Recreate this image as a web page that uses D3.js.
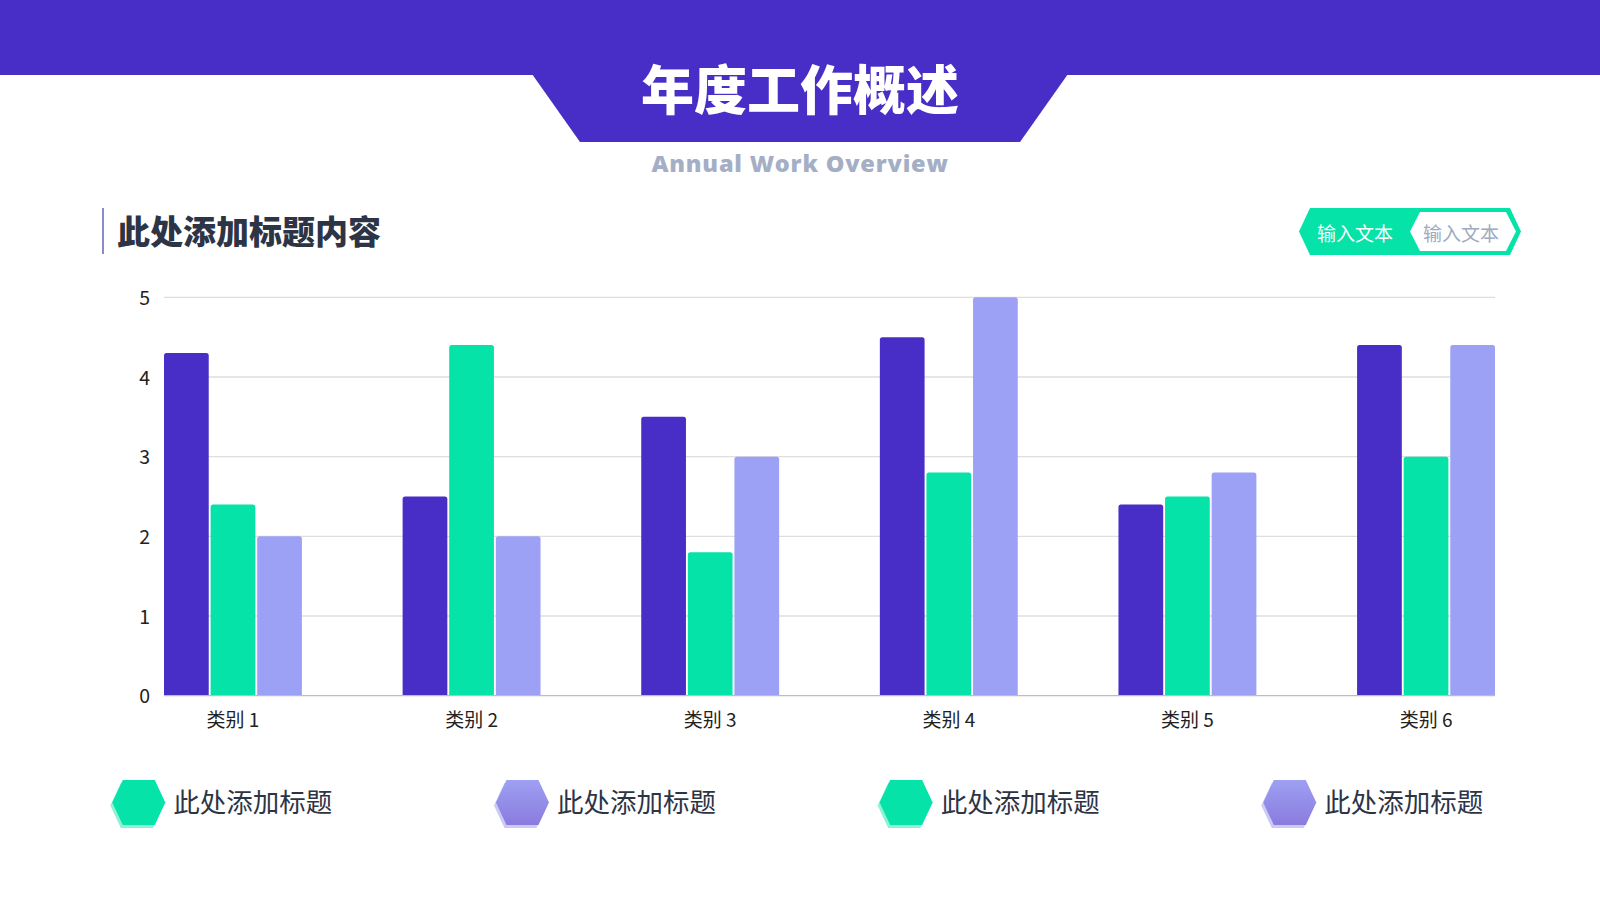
<!DOCTYPE html>
<html><head><meta charset="utf-8">
<script src="https://cdn.jsdelivr.net/npm/d3@7"></script>
<style>html,body{margin:0;padding:0;background:#fff;}svg{display:block;}</style>
</head><body>
<svg id="c" width="1600" height="900"></svg>
<script>
const categories = ["类别 1","类别 2","类别 3","类别 4","类别 5","类别 6"];
const series1 = [4.3, 2.5, 3.5, 4.5, 2.4, 4.4];
const series2 = [2.4, 4.4, 1.8, 2.8, 2.5, 3.0];
const series3 = [2.0, 2.0, 3.0, 5.0, 2.8, 4.4];
const yTicks = [0,1,2,3,4,5];
const legendLabels = ["此处添加标题","此处添加标题","此处添加标题","此处添加标题"];
const seriesColors = ["#482EC6","#06E3A8","#9CA1F5"];

const svg = d3.select("#c");
const CJK = "'Noto Sans CJK SC','Noto Sans',sans-serif";
const defs = svg.append("defs");
const lg = defs.append("linearGradient").attr("id","lav").attr("x1",0).attr("y1",0).attr("x2",0).attr("y2",1);
lg.append("stop").attr("offset","0%").attr("stop-color","#9EA0F3");
lg.append("stop").attr("offset","100%").attr("stop-color","#8A7BDD");

// header
svg.append("rect").attr("x",0).attr("y",0).attr("width",1600).attr("height",75).attr("fill","#482EC6");
svg.append("polygon").attr("points","532,74 1068,74 1020,142 580,142").attr("fill","#482EC6");
svg.append("text").attr("x",800).attr("y",87).attr("text-anchor","middle").attr("dominant-baseline","central")
  .attr("font-family",CJK).attr("font-weight",900).attr("font-size",53).attr("fill","#fff").text("年度工作概述");
svg.append("text").attr("x",800).attr("y",163).attr("text-anchor","middle").attr("dominant-baseline","central")
  .attr("font-family","'Open Sans','Lato',sans-serif").attr("font-weight",800).attr("font-size",23.5)
  .attr("letter-spacing",0.8).attr("fill","#A4AFC6").text("Annual Work Overview");

// section title
svg.append("line").attr("x1",103).attr("x2",103).attr("y1",208).attr("y2",254).attr("stroke","#8C88D0").attr("stroke-width",2);
svg.append("text").attr("x",117).attr("y",230).attr("dominant-baseline","central")
  .attr("font-family",CJK).attr("font-weight",900).attr("font-size",33).attr("fill","#2D3446").text("此处添加标题内容");

// top-right button
svg.append("polygon").attr("points","1299,231.5 1310,208 1510,208 1521,231.5 1510,255 1310,255").attr("fill","#06E3A8");
svg.append("polygon").attr("points","1410,231.5 1420,212 1506,212 1516,231.5 1506,251 1420,251").attr("fill","#fff");
svg.append("text").attr("x",1355).attr("y",232).attr("text-anchor","middle").attr("dominant-baseline","central")
  .attr("font-family",CJK).attr("font-size",19).attr("fill","#fff").text("输入文本");
svg.append("text").attr("x",1461).attr("y",232).attr("text-anchor","middle").attr("dominant-baseline","central")
  .attr("font-family",CJK).attr("font-size",19).attr("fill","#A0AABF").text("输入文本");

// chart
const x = d3.scaleBand().domain(categories).range([164,1495]).paddingInner(0.422).paddingOuter(0);
const xs = d3.scaleBand().domain([0,1,2]).range([0,x.bandwidth()]).paddingInner(0.04);
const y = d3.scaleLinear().domain([0,5]).range([695.7,297.3]);

const grid = svg.append("g");
grid.selectAll("line").data(yTicks.filter(d=>d>0)).join("line")
  .attr("x1",164).attr("x2",1495).attr("y1",d=>y(d)).attr("y2",d=>y(d))
  .attr("stroke","#DEDEDE").attr("stroke-width",1.3);

const yAxis = d3.axisLeft(y).tickValues(yTicks).tickSize(0).tickPadding(0).tickFormat(d3.format("d"));
const ya = svg.append("g").attr("transform","translate(150,1)").call(yAxis);
ya.select(".domain").remove();
ya.selectAll("text").attr("font-family",CJK).attr("font-size",19.5).attr("fill","#222");

const allSeries = [series1, series2, series3];
const barData = [];
categories.forEach((c,i)=>allSeries.forEach((s,j)=>barData.push({c, j, v:s[i]})));
function barPath(d){
  const x0 = x(d.c)+xs(d.j), w = xs.bandwidth(), y0 = y(d.v), yb = y(0), r = 2.5;
  return `M${x0},${yb}V${y0+r}Q${x0},${y0} ${x0+r},${y0}H${x0+w-r}Q${x0+w},${y0} ${x0+w},${y0+r}V${yb}Z`;
}
svg.append("g").selectAll("path").data(barData).join("path")
  .attr("d",barPath).attr("fill",d=>seriesColors[d.j]);

svg.append("line").attr("x1",164).attr("x2",1495).attr("y1",y(0)).attr("y2",y(0)).attr("stroke","#BDBDBD").attr("stroke-width",1.3);

const xAxis = d3.axisBottom(x).tickSize(0).tickPadding(0);
const xa = svg.append("g").attr("transform","translate(0,718)").call(xAxis);
xa.select(".domain").remove();
xa.selectAll("text").attr("dy",null).attr("dominant-baseline","central")
  .attr("font-family",CJK).attr("font-size",19).attr("fill","#222");

// legend
const legendColors = ["#06E3A8","url(#lav)","#06E3A8","url(#lav)"];
const shadowColors = ["#8FF2D6","#C9CBF6","#8FF2D6","#C9CBF6"];
const lx = d3.scaleLinear().domain([0,3]).range([112.3,1263.3]);
const hex = "-26.5,0 -16,-22.5 16,-22.5 26.5,0 16,22.5 -16,22.5";
const items = svg.append("g").selectAll("g").data(legendLabels).join("g")
  .attr("transform",(d,i)=>`translate(${lx(i)},802.5)`);
items.append("polygon").attr("points",hex).attr("transform","translate(24.5,3)").attr("fill",(d,i)=>shadowColors[i]);
items.append("polygon").attr("points",hex).attr("transform","translate(26.5,0)").attr("fill",(d,i)=>legendColors[i]);
items.append("text").attr("x",61).attr("y",-2).attr("dominant-baseline","central")
  .attr("font-family",CJK).attr("font-size",26.5).attr("fill","#2D3446").text(d=>d);
</script>
</body></html>
